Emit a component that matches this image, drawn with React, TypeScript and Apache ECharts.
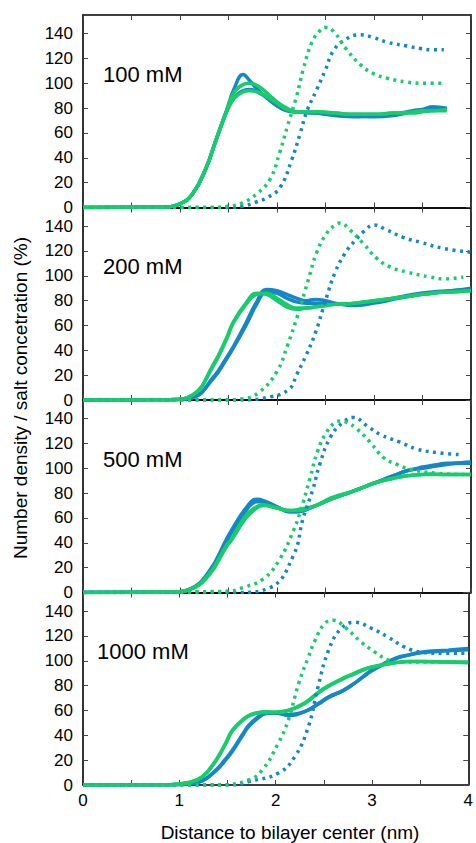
import React, { useEffect, useRef } from "react";
import * as echarts from "echarts";

// ---------- data ----------
const panelLabels = ["100 mM", "200 mM", "500 mM", "1000 mM"];
const xTickValues = [0, 1, 2, 3, 4];
const yTickStep = 20;

// 100 mM
const x100Solid = [0, 0.8, 1.0, 1.13, 1.27, 1.37, 1.48, 1.56, 1.65, 1.72, 1.8, 1.9, 2.0, 2.1, 2.2, 2.4, 2.6, 2.8, 3.0, 3.2, 3.4, 3.5, 3.6, 3.75];
const blueA100 = [0, 0.3, 3, 11, 32, 54, 78, 96, 107, 102, 95, 88, 82, 78, 77, 76, 75, 74, 73, 74, 77, 78, 81, 79];
const blueB100 = [0, 0.3, 3, 11, 32, 54, 77, 89, 94, 95, 93, 88, 82, 78, 77, 76, 74, 73, 74, 75, 78, 79, 81, 80];
const greenA100 = [0, 0.3, 3, 11, 32, 54, 78, 93, 99, 100, 98, 92, 85, 80, 77, 77, 76, 75, 75, 76, 77, 78, 78, 79];
const greenB100 = [0, 0.3, 3, 11, 32, 54, 77, 88, 93, 94, 93, 89, 84, 79, 77, 77, 76, 75, 75, 76, 76, 77, 78, 78];
const x100BlueDot = [0, 1.5, 1.65, 1.77, 1.9, 2.03, 2.15, 2.24, 2.31, 2.41, 2.5, 2.58, 2.7, 2.86, 2.99, 3.14, 3.34, 3.48, 3.6, 3.72];
const y100BlueDot = [0, 0, 1, 4, 8, 16, 38, 60, 78, 95, 111, 126, 135, 139, 137, 133, 130, 128, 127, 127];
const x100GreenDot = [0, 1.3, 1.5, 1.65, 1.8, 1.93, 2.03, 2.11, 2.2, 2.27, 2.36, 2.45, 2.5, 2.58, 2.72, 2.86, 2.99, 3.14, 3.34, 3.5, 3.72];
const y100GreenDot = [0, 0, 1, 4, 11.6, 23, 44.8, 66, 89, 111, 133, 143, 145, 142, 127, 115, 108, 104, 101, 100, 100];

// 200 mM
const x200Solid = [0, 0.9, 1.13, 1.34, 1.48, 1.55, 1.68, 1.79, 1.89, 2.0, 2.1, 2.2, 2.3, 2.4, 2.5, 2.6, 2.8, 3.0, 3.2, 3.4, 3.6, 3.8, 4.0];
const blueA200 = [0, 0.2, 2, 18, 34, 43, 62, 79, 89, 88, 85, 82, 80, 81, 80, 78, 76, 78, 81, 84, 86, 88, 89];
const blueB200 = [0, 0.2, 2, 17, 33, 42, 60, 77, 87, 86, 82, 79, 78, 78, 78, 77, 77, 79, 82, 85, 87, 88, 90];
const greenA200 = [0, 0.3, 4, 28, 50, 63, 78, 86, 85, 80, 75, 73, 74, 75, 76, 77, 78, 80, 82, 84, 86, 87, 88];
const greenB200 = [0, 0.3, 4, 27, 49, 62, 77, 85, 86, 82, 77, 74, 74, 75, 76, 77, 78, 80, 82, 84, 86, 87, 88];
const x200BlueDot = [0, 1.6, 1.93, 2.13, 2.2, 2.3, 2.4, 2.5, 2.6, 2.7, 2.8, 2.9, 3.0, 3.13, 3.3, 3.48, 3.72, 4.0];
const y200BlueDot = [0, 0, 2.5, 9, 20, 36, 55, 80, 103, 118, 128, 136, 141, 137, 131, 127, 122, 119];
const x200GreenDot = [0, 1.4, 1.65, 1.82, 2.0, 2.11, 2.21, 2.32, 2.41, 2.51, 2.6, 2.65, 2.75, 2.89, 3.03, 3.17, 3.34, 3.58, 3.72, 3.92];
const y200GreenDot = [0, 0, 1, 6.5, 23, 44.5, 67.5, 96, 119, 134, 141, 142.5, 137, 126, 114, 107, 103, 99, 97.5, 99];

// 500 mM
const x500Solid = [0, 0.9, 1.1, 1.3, 1.48, 1.53, 1.68, 1.79, 1.86, 2.0, 2.13, 2.2, 2.4, 2.55, 2.8, 3.0, 3.2, 3.34, 3.5, 3.58, 3.75, 3.9, 4.0];
const blueA500 = [0, 0.2, 2.7, 17, 43, 50, 68, 75, 74, 69, 65, 65, 70, 75, 82, 88, 94, 98, 101, 102, 104, 104.5, 105];
const blueB500 = [0, 0.2, 2.5, 16, 41, 48, 66, 73, 73, 69, 65, 65, 70, 75, 82, 88, 94, 98, 100, 101, 103, 104, 104];
const greenA500 = [0, 0.2, 2.5, 15, 38, 43, 62, 69, 70.6, 68, 66, 66.5, 70, 76, 82, 88, 92, 94, 95, 95.5, 95, 95, 95];
const greenB500 = [0, 0.2, 2.3, 14, 37, 42, 60, 68, 70, 68, 66, 66, 70, 75, 82, 88, 92, 94, 95, 95, 95, 95, 95];
const x500BlueDot = [0, 1.6, 1.93, 2.17, 2.27, 2.37, 2.44, 2.55, 2.68, 2.79, 2.93, 3.07, 3.27, 3.44, 3.65, 3.89];
const y500BlueDot = [0, 0, 4, 30, 60, 83, 103, 125, 137, 141, 134, 127, 121, 115.6, 112.6, 111];
const x500GreenDot = [0, 1.5, 1.65, 1.86, 2.03, 2.17, 2.24, 2.34, 2.42, 2.51, 2.6, 2.65, 2.72, 2.82, 2.96, 3.1, 3.24, 3.38, 3.65, 3.93];
const y500GreenDot = [0, 1, 4, 11, 27, 50, 65, 92, 114, 129, 137, 138, 137, 132, 121, 108.5, 103, 99, 96, 95];

// 1000 mM
const x1000Solid = [0, 0.9, 1.1, 1.24, 1.38, 1.48, 1.55, 1.65, 1.72, 1.82, 1.9, 2.0, 2.13, 2.3, 2.45, 2.55, 2.7, 2.82, 2.91, 3.0, 3.24, 3.4, 3.51, 3.79, 4.0];
const blueA1000 = [0, 0.2, 1, 3.5, 12, 21, 28, 40, 48, 55, 58, 58, 56, 59, 66, 71, 76, 82, 87.5, 92.5, 102, 105, 107, 108.6, 110];
const blueB1000 = [0, 0.2, 1, 3.3, 11.5, 20, 27, 39, 47, 54, 57.5, 58, 56.5, 59, 65.5, 70.5, 76, 82, 87, 92, 101.5, 105, 106.5, 108, 109];
const greenA1000 = [0, 0.2, 2, 6.7, 20, 33.5, 44, 52, 56, 58.5, 59, 58.5, 60, 66, 75, 80, 86, 90, 93, 95, 98.5, 99.5, 99.5, 99, 99];
const greenB1000 = [0, 0.2, 2, 6.5, 19.5, 33, 43.5, 51.5, 55.5, 58, 58.5, 58.5, 60, 65.5, 74.5, 79.5, 85.5, 89.5, 92.5, 95, 98.5, 99.5, 99.5, 99, 98.5];
const x1000BlueDot = [0, 1.55, 1.72, 2.03, 2.2, 2.34, 2.44, 2.55, 2.68, 2.82, 3.0, 3.17, 3.34, 3.51, 3.75, 4.0];
const y1000BlueDot = [0, 0, 2.7, 9.6, 23, 47, 79, 108.6, 126, 131, 126, 119, 111, 107, 106, 106];
const x1000GreenDot = [0, 1.4, 1.72, 1.86, 2.03, 2.13, 2.24, 2.34, 2.41, 2.51, 2.6, 2.72, 2.89, 3.03, 3.17, 3.3, 3.5, 3.9];
const y1000GreenDot = [0, 0, 4, 12, 34, 52, 82, 103, 116.6, 130, 132.7, 127, 115, 107, 100.6, 99, 99, 99];

// ---------- styling ----------
const BLUE = "#1687c6";
const GREEN = "#17cc6b";
const FONT = "Liberation Sans";

const zip = (xs: number[], ys: number[]) => xs.map((x, i) => [x, ys[i]]);

const panels = [
  { solidX: x100Solid, blues: [blueA100, blueB100], greens: [greenA100, greenB100], bdx: x100BlueDot, bdy: y100BlueDot, gdx: x100GreenDot, gdy: y100GreenDot },
  { solidX: x200Solid, blues: [blueA200, blueB200], greens: [greenA200, greenB200], bdx: x200BlueDot, bdy: y200BlueDot, gdx: x200GreenDot, gdy: y200GreenDot },
  { solidX: x500Solid, blues: [blueA500, blueB500], greens: [greenA500, greenB500], bdx: x500BlueDot, bdy: y500BlueDot, gdx: x500GreenDot, gdy: y500GreenDot },
  { solidX: x1000Solid, blues: [blueA1000, blueB1000], greens: [greenA1000, greenB1000], bdx: x1000BlueDot, bdy: y1000BlueDot, gdx: x1000GreenDot, gdy: y1000GreenDot },
];

export default function App() {
  const ref = useRef<HTMLDivElement>(null);
  useEffect(() => {
    if (!ref.current) return;
    const chart = echarts.init(ref.current, null, { renderer: "svg" });
    const LEFT = 83;
    const WIDTH = 388;
    const TOP = 15;
    const H = 192.5;

    const grids: any[] = [];
    const xAxes: any[] = [];
    const yAxes: any[] = [];
    const series: any[] = [];
    const graphics: any[] = [];

    const axisLine = { show: true, onZero: false, lineStyle: { color: "#000", width: 1.6 } };
    const axisTick = { show: true, inside: true, length: 5, lineStyle: { color: "#444", width: 1 } };

    panels.forEach((p, i) => {
      const top = TOP + i * H;
      grids.push({ left: LEFT, width: WIDTH, top, height: H });
      const last = i === panels.length - 1;
      xAxes.push({
        type: "value", gridIndex: i, position: "bottom", min: 0, max: 4, interval: 0.5,
        axisLine, axisTick, splitLine: { show: false },
        axisLabel: {
          show: last, color: "#000", fontFamily: FONT, fontSize: 17, margin: 7,
          formatter: (v: number) => (xTickValues.includes(v) ? String(v) : ""),
        },
      });
      xAxes.push({
        type: "value", gridIndex: i, position: "top", min: 0, max: 4, interval: 0.5,
        axisLine, axisTick, splitLine: { show: false }, axisLabel: { show: false },
      });
      yAxes.push({
        type: "value", gridIndex: i, position: "left", min: 0, max: 155, interval: yTickStep,
        axisLine, axisTick, splitLine: { show: false },
        axisLabel: { color: "#000", fontFamily: FONT, fontSize: 17, margin: 10, showMaxLabel: false },
      });
      yAxes.push({
        type: "value", gridIndex: i, position: "right", min: 0, max: 155, interval: yTickStep,
        axisLine, axisTick, splitLine: { show: false }, axisLabel: { show: false },
      });

      const base = {
        type: "line", xAxisIndex: 2 * i, yAxisIndex: 2 * i, showSymbol: false, symbol: "none",
        smooth: 0.45, silent: true, clip: true,
      };
      p.blues.forEach((ys) => series.push({ ...base, data: zip(p.solidX, ys), lineStyle: { color: BLUE, width: 3.5 } }));
      p.greens.forEach((ys) => series.push({ ...base, data: zip(p.solidX, ys), lineStyle: { color: GREEN, width: 3.5 } }));
      series.push({ ...base, data: zip(p.bdx, p.bdy), lineStyle: { color: BLUE, width: 3.5, type: [3, 4.5] } });
      series.push({ ...base, data: zip(p.gdx, p.gdy), lineStyle: { color: GREEN, width: 3.5, type: [3, 4.5] } });

      graphics.push({
        type: "text", left: last ? 97 : 103, top: top + 48,
        style: { text: panelLabels[i], fontFamily: FONT, fontSize: 22, fill: "#000" },
      });
    });

    graphics.push({
      type: "text", x: 290, y: 832,
      style: { text: "Distance to bilayer center (nm)", fontFamily: FONT, fontSize: 19, fill: "#000", align: "center", verticalAlign: "middle" },
    });
    graphics.push({
      type: "text", x: 20, y: 398, rotation: Math.PI / 2,
      style: { text: "Number density / salt concetration (%)", fontFamily: FONT, fontSize: 19, fill: "#000", align: "center", verticalAlign: "middle" },
    });

    chart.setOption({
      animation: false,
      backgroundColor: "#fff",
      grid: grids,
      xAxis: xAxes,
      yAxis: yAxes,
      series,
      graphic: graphics,
    });
    return () => chart.dispose();
  }, []);
  return <div ref={ref} style={{ position: "fixed", left: 0, top: 0, width: 476, height: 843 }} />;
}
